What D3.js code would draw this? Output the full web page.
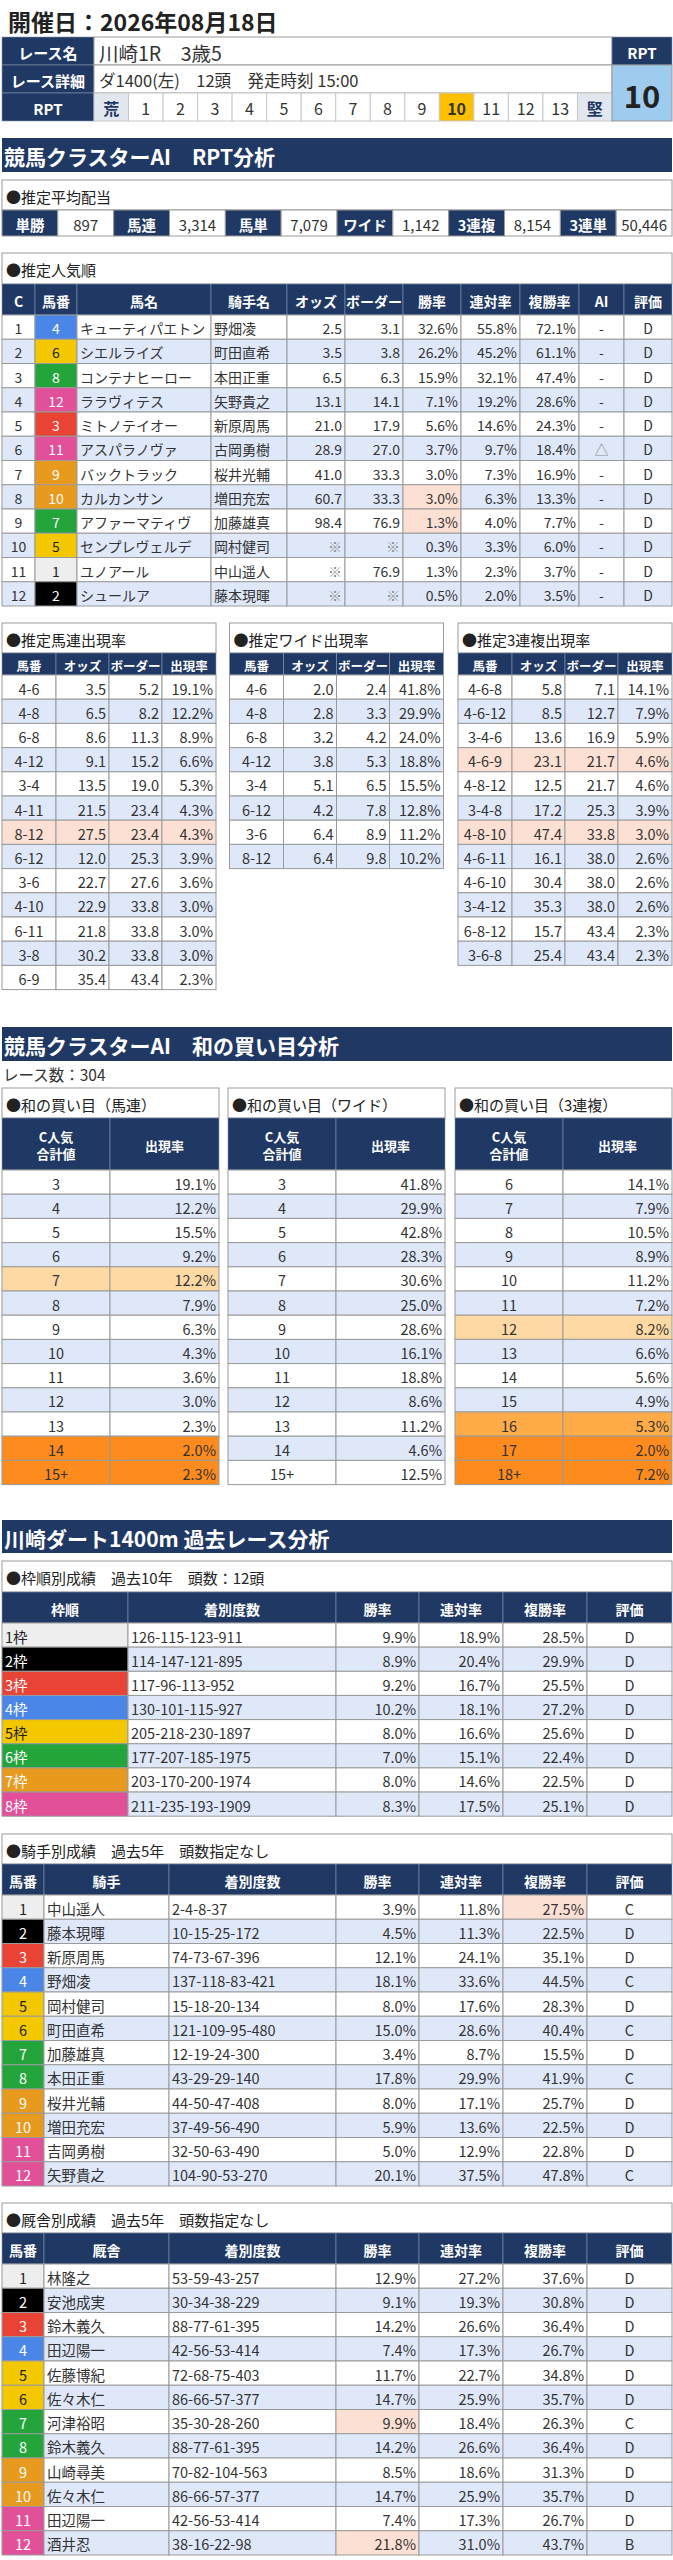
<!DOCTYPE html>
<html>
<head>
<meta charset="utf-8">
<script src="https://cdn.jsdelivr.net/npm/d3@7"></script>
<style>
  body { margin: 0; background: #fff; }
  svg text { font-family: "Noto Sans CJK JP", "Noto Sans", sans-serif; }
</style>
</head>
<body>
<div id="chart"></div>
<script>
// ---- data -----------------------------------------------------------
var raceDate = "開催日：2026年08月18日";
var raceName = "川崎1R　3歳5";
var raceDetail = "ダ1400(左)　12頭　発走時刻 15:00";
var rptScale = ["荒", "1", "2", "3", "4", "5", "6", "7", "8", "9", "10", "11", "12", "13", "堅"];
var rptValue = 10;

var payoutLabels = ["単勝", "馬連", "馬単", "ワイド", "3連複", "3連単"];
var payoutValues = [897, 3314, 7079, 1142, 8154, 50446];

// 推定人気順 (null = ※)
var popHorse = [4, 6, 8, 12, 3, 11, 9, 10, 7, 5, 1, 2];
var popName = ["キューティパエトン", "シエルライズ", "コンテナヒーロー", "ララヴィテス", "ミトノテイオー", "アスパラノヴァ",
  "バックトラック", "カルカンサン", "アファーマティヴ", "センプレヴェルデ", "ユノアール", "シュールア"];
var popJockey = ["野畑凌", "町田直希", "本田正重", "矢野貴之", "新原周馬", "古岡勇樹",
  "桜井光輔", "増田充宏", "加藤雄真", "岡村健司", "中山遥人", "藤本現暉"];
var popOdds = [2.5, 3.5, 6.5, 13.1, 21.0, 28.9, 41.0, 60.7, 98.4, null, null, null];
var popBorder = [3.1, 3.8, 6.3, 14.1, 17.9, 27.0, 33.3, 33.3, 76.9, null, 76.9, null];
var popWin = [32.6, 26.2, 15.9, 7.1, 5.6, 3.7, 3.0, 3.0, 1.3, 0.3, 1.3, 0.5];
var popRen = [55.8, 45.2, 32.1, 19.2, 14.6, 9.7, 7.3, 6.3, 4.0, 3.3, 2.3, 2.0];
var popFuku = [72.1, 61.1, 47.4, 28.6, 24.3, 18.4, 16.9, 13.3, 7.7, 6.0, 3.7, 3.5];
var popAI = ["-", "-", "-", "-", "-", "△", "-", "-", "-", "-", "-", "-"];
var popGrade = ["D", "D", "D", "D", "D", "D", "D", "D", "D", "D", "D", "D"];
var popWinMarked = [7, 8];

// 推定出現率: [組番, オッズ, ボーダー, 出現率]
var umarenRows = [["4-6", 3.5, 5.2, 19.1], ["4-8", 6.5, 8.2, 12.2], ["6-8", 8.6, 11.3, 8.9], ["4-12", 9.1, 15.2, 6.6],
  ["3-4", 13.5, 19.0, 5.3], ["4-11", 21.5, 23.4, 4.3], ["8-12", 27.5, 23.4, 4.3], ["6-12", 12.0, 25.3, 3.9],
  ["3-6", 22.7, 27.6, 3.6], ["4-10", 22.9, 33.8, 3.0], ["6-11", 21.8, 33.8, 3.0], ["3-8", 30.2, 33.8, 3.0],
  ["6-9", 35.4, 43.4, 2.3]];
var umarenMarked = [6];
var wideRows = [["4-6", 2.0, 2.4, 41.8], ["4-8", 2.8, 3.3, 29.9], ["6-8", 3.2, 4.2, 24.0], ["4-12", 3.8, 5.3, 18.8],
  ["3-4", 5.1, 6.5, 15.5], ["6-12", 4.2, 7.8, 12.8], ["3-6", 6.4, 8.9, 11.2], ["8-12", 6.4, 9.8, 10.2]];
var wideMarked = [];
var trioRows = [["4-6-8", 5.8, 7.1, 14.1], ["4-6-12", 8.5, 12.7, 7.9], ["3-4-6", 13.6, 16.9, 5.9], ["4-6-9", 23.1, 21.7, 4.6],
  ["4-8-12", 12.5, 21.7, 4.6], ["3-4-8", 17.2, 25.3, 3.9], ["4-8-10", 47.4, 33.8, 3.0], ["4-6-11", 16.1, 38.0, 2.6],
  ["4-6-10", 30.4, 38.0, 2.6], ["3-4-12", 35.3, 38.0, 2.6], ["6-8-12", 15.7, 43.4, 2.3], ["3-6-8", 25.4, 43.4, 2.3]];
var trioMarked = [3, 6];

// 和の買い目
var raceCount = 304;
var sumUmarenKeys = ["3", "4", "5", "6", "7", "8", "9", "10", "11", "12", "13", "14", "15+"];
var sumUmarenRate = [19.1, 12.2, 15.5, 9.2, 12.2, 7.9, 6.3, 4.3, 3.6, 3.0, 2.3, 2.0, 2.3];
var sumUmarenLevel = [0, 0, 0, 0, 1, 0, 0, 0, 0, 0, 0, 3, 3];
var sumWideKeys = ["3", "4", "5", "6", "7", "8", "9", "10", "11", "12", "13", "14", "15+"];
var sumWideRate = [41.8, 29.9, 42.8, 28.3, 30.6, 25.0, 28.6, 16.1, 18.8, 8.6, 11.2, 4.6, 12.5];
var sumWideLevel = [0, 0, 0, 0, 0, 0, 0, 0, 0, 0, 0, 0, 0];
var sumTrioKeys = ["6", "7", "8", "9", "10", "11", "12", "13", "14", "15", "16", "17", "18+"];
var sumTrioRate = [14.1, 7.9, 10.5, 8.9, 11.2, 7.2, 8.2, 6.6, 5.6, 4.9, 5.3, 2.0, 7.2];
var sumTrioLevel = [0, 0, 0, 0, 0, 0, 1, 0, 0, 0, 2, 3, 3];

// 枠順別成績
var frameLabels = ["1枠", "2枠", "3枠", "4枠", "5枠", "6枠", "7枠", "8枠"];
var frameRecord = ["126-115-123-911", "114-147-121-895", "117-96-113-952", "130-101-115-927",
  "205-218-230-1897", "177-207-185-1975", "203-170-200-1974", "211-235-193-1909"];
var frameWin = [9.9, 8.9, 9.2, 10.2, 8.0, 7.0, 8.0, 8.3];
var frameRen = [18.9, 20.4, 16.7, 18.1, 16.6, 15.1, 14.6, 17.5];
var frameFuku = [28.5, 29.9, 25.5, 27.2, 25.6, 22.4, 22.5, 25.1];
var frameGrade = ["D", "D", "D", "D", "D", "D", "D", "D"];

// 騎手別成績
var jockeyNames = ["中山遥人", "藤本現暉", "新原周馬", "野畑凌", "岡村健司", "町田直希",
  "加藤雄真", "本田正重", "桜井光輔", "増田充宏", "吉岡勇樹", "矢野貴之"];
var jockeyRecord = ["2-4-8-37", "10-15-25-172", "74-73-67-396", "137-118-83-421", "15-18-20-134", "121-109-95-480",
  "12-19-24-300", "43-29-29-140", "44-50-47-408", "37-49-56-490", "32-50-63-490", "104-90-53-270"];
var jockeyWin = [3.9, 4.5, 12.1, 18.1, 8.0, 15.0, 3.4, 17.8, 8.0, 5.9, 5.0, 20.1];
var jockeyRen = [11.8, 11.3, 24.1, 33.6, 17.6, 28.6, 8.7, 29.9, 17.1, 13.6, 12.9, 37.5];
var jockeyFuku = [27.5, 22.5, 35.1, 44.5, 28.3, 40.4, 15.5, 41.9, 25.7, 22.5, 22.8, 47.8];
var jockeyGrade = ["C", "D", "D", "C", "D", "C", "D", "C", "D", "D", "D", "C"];
var jockeyFukuMarked = [0];

// 厩舎別成績
var stableNames = ["林隆之", "安池成実", "鈴木義久", "田辺陽一", "佐藤博紀", "佐々木仁",
  "河津裕昭", "鈴木義久", "山崎尋美", "佐々木仁", "田辺陽一", "酒井忍"];
var stableRecord = ["53-59-43-257", "30-34-38-229", "88-77-61-395", "42-56-53-414", "72-68-75-403", "86-66-57-377",
  "35-30-28-260", "88-77-61-395", "70-82-104-563", "86-66-57-377", "42-56-53-414", "38-16-22-98"];
var stableWin = [12.9, 9.1, 14.2, 7.4, 11.7, 14.7, 9.9, 14.2, 8.5, 14.7, 7.4, 21.8];
var stableRen = [27.2, 19.3, 26.6, 17.3, 22.7, 25.9, 18.4, 26.6, 18.6, 25.9, 17.3, 31.0];
var stableFuku = [37.6, 30.8, 36.4, 26.7, 34.8, 35.7, 26.3, 36.4, 31.3, 35.7, 26.7, 43.7];
var stableGrade = ["D", "D", "D", "D", "D", "D", "C", "D", "D", "D", "D", "B"];
var stableWinMarked = [6, 11];

// horse number -> frame (12 runners)
var horseFrame = [1, 2, 3, 4, 5, 5, 6, 6, 7, 7, 8, 8];

// ---- styles -----------------------------------------------------------
var NAVY = "#1f3864", ALT = "#dfe8f9", LINE = "#9a9a9a", INK = "#333";
var PINK = "#fce0d4";
var LEVEL_FILL = [null, "#fed9a3", "#ffab47", "#fd8b1d"];
var FRAME_FILL = ["#eeeeee", "#000000", "#e94335", "#4a86e8", "#f3c800", "#23a53b", "#e89a1e", "#e2509a"];
var FRAME_INK = ["#222", "#fff", "#fff", "#fff", "#222", "#fff", "#fff", "#fff"];

var fmt1 = d3.format(".1f");
var fmtComma = d3.format(",");
function pct(v) { return fmt1(v) + "%"; }
function odds(v) { return v == null ? "※" : fmt1(v); }

var W = 673, H = 2560;
var svg = d3.select("#chart").append("svg")
  .attr("width", W).attr("height", H)
  .attr("viewBox", "0 0 " + W + " " + H);
svg.append("rect").attr("width", W).attr("height", H).attr("fill", "#fff");

function putText(g, x, y, str, o) {
  o = o || {};
  return g.append("text")
    .attr("x", x).attr("y", y)
    .attr("dominant-baseline", "central")
    .attr("text-anchor", o.anchor || "start")
    .attr("font-size", o.size || 14)
    .attr("font-weight", o.weight || "normal")
    .attr("fill", o.color || INK)
    .text(str);
}

function sectionBar(y, h, str) {
  svg.append("rect").attr("x", 2).attr("y", y).attr("width", 670).attr("height", h).attr("fill", NAVY);
  putText(svg, 4, y + h / 2 + 1, str, { size: 21, weight: "bold", color: "#fff" });
}

// generic bordered table: title row, navy header, striped body
function drawTable(o) {
  var g = svg.append("g");
  var x0 = o.x;
  var edges = [x0].concat(Array.from(d3.cumsum(o.widths)).map(function (d) { return x0 + d; }));
  var totalW = edges[edges.length - 1] - x0;
  var y = o.y;

  if (o.title) {
    g.append("rect").attr("x", x0).attr("y", y).attr("width", totalW).attr("height", o.titleH)
      .attr("fill", "#fff").attr("stroke", LINE);
    putText(g, x0 + 4, y + o.titleH / 2 + 1, o.title, { size: 15, color: "#222" });
    y += o.titleH;
  }

  if (o.headers) {
    o.headers.forEach(function (h, c) {
      var cx = edges[c], cw = edges[c + 1] - edges[c];
      g.append("rect").attr("x", cx).attr("y", y).attr("width", cw).attr("height", o.headH)
        .attr("fill", NAVY).attr("stroke", "#8a96ad").attr("stroke-width", 0.6);
      var lines = h.split("\n");
      lines.forEach(function (ln, k) {
        var ty = y + o.headH / 2 + (k - (lines.length - 1) / 2) * 17 + 1;
        putText(g, cx + cw / 2, ty, ln, { size: o.headSize || 14, weight: "bold", color: "#fff", anchor: "middle" });
      });
    });
    y += o.headH;
  }

  var rowY = d3.scaleBand().domain(d3.range(o.rows.length)).range([y, y + o.rows.length * o.rowH]);
  var cells = [];
  o.rows.forEach(function (row, r) {
    row.forEach(function (val, c) { cells.push({ r: r, c: c, v: val }); });
  });

  var cg = g.selectAll("g.cell").data(cells).join("g").attr("class", "cell");
  cg.append("rect")
    .attr("x", function (d) { return edges[d.c]; })
    .attr("y", function (d) { return rowY(d.r); })
    .attr("width", function (d) { return edges[d.c + 1] - edges[d.c]; })
    .attr("height", rowY.bandwidth())
    .attr("fill", function (d) {
      var f = o.fill ? o.fill(d.r, d.c) : null;
      return f || (d.r % 2 === 1 ? ALT : "#fff");
    })
    .attr("stroke", LINE).attr("stroke-width", 1);
  cg.append("text")
    .attr("x", function (d) {
      var a = o.align[d.c];
      if (a === "middle") return (edges[d.c] + edges[d.c + 1]) / 2;
      if (a === "end") return edges[d.c + 1] - 3;
      return edges[d.c] + 3;
    })
    .attr("y", function (d) { return rowY(d.r) + rowY.bandwidth() / 2 + 1; })
    .attr("dominant-baseline", "central")
    .attr("text-anchor", function (d) { return o.align[d.c]; })
    .attr("font-size", o.size || 14.5)
    .attr("fill", function (d) {
      var col = o.color ? o.color(d.r, d.c, d.v) : null;
      return col || INK;
    })
    .text(function (d) { return d.v; });
  return g;
}

function frameOfHorse(h) { return horseFrame[h - 1] - 1; }

// ---- header block --------------------------------------------------------
putText(svg, 8, 21, raceDate, { size: 23, weight: "bold", color: "#222" });

(function () {
  var top = 37, rh = 28, labW = 92, x0 = 2, scaleX0 = 94, scaleX1 = 612;
  var g = svg.append("g");
  var labels = ["レース名", "レース詳細", "RPT"];
  labels.forEach(function (l, i) {
    g.append("rect").attr("x", x0).attr("y", top + i * rh).attr("width", labW).attr("height", rh)
      .attr("fill", NAVY).attr("stroke", "#8a96ad").attr("stroke-width", 0.6);
    putText(g, x0 + labW / 2, top + i * rh + rh / 2 + 1, l, { size: 15, weight: "bold", color: "#fff", anchor: "middle" });
  });
  [raceName, raceDetail].forEach(function (s, i) {
    g.append("rect").attr("x", scaleX0).attr("y", top + i * rh).attr("width", scaleX1 - scaleX0).attr("height", rh)
      .attr("fill", "#fff").attr("stroke", LINE);
    putText(g, scaleX0 + 5, top + i * rh + rh / 2 + 1, s, { size: i === 0 ? 19.5 : 16.5, color: "#333" });
  });
  var sx = d3.scaleBand().domain(rptScale).range([scaleX0, scaleX1]);
  var ry = top + 2 * rh;
  var sc = g.selectAll("g.rpt").data(rptScale).join("g").attr("class", "rpt");
  sc.append("rect")
    .attr("x", function (d) { return sx(d); }).attr("y", ry)
    .attr("width", sx.bandwidth()).attr("height", rh)
    .attr("fill", function (d) {
      if (d === String(rptValue)) return "#ffc000";
      if (d === "荒" || d === "堅") return "#e2e7ef";
      return "#fff";
    })
    .attr("stroke", "#c8c8c8");
  sc.append("text")
    .attr("x", function (d) { return sx(d) + sx.bandwidth() / 2; })
    .attr("y", ry + rh / 2 + 1)
    .attr("dominant-baseline", "central").attr("text-anchor", "middle")
    .attr("font-size", 16)
    .attr("font-weight", function (d) { return (d === "荒" || d === "堅" || d === String(rptValue)) ? "bold" : "normal"; })
    .attr("fill", function (d) { return (d === "荒" || d === "堅") ? NAVY : "#333"; })
    .text(function (d) { return d; });
  // RPT badge
  g.append("rect").attr("x", scaleX1).attr("y", top).attr("width", 672 - scaleX1).attr("height", rh)
    .attr("fill", NAVY).attr("stroke", "#8a96ad").attr("stroke-width", 0.6);
  putText(g, (scaleX1 + 672) / 2, top + rh / 2 + 1, "RPT", { size: 15, weight: "bold", color: "#fff", anchor: "middle" });
  g.append("rect").attr("x", scaleX1).attr("y", top + rh).attr("width", 672 - scaleX1).attr("height", rh * 2)
    .attr("fill", "#9fcbee").attr("stroke", LINE);
  putText(g, (scaleX1 + 672) / 2, top + rh * 2 + 1, String(rptValue), { size: 31, weight: "bold", color: "#222", anchor: "middle" });
})();

// ---- RPT分析 -------------------------------------------------------------
sectionBar(138, 34, "競馬クラスターAI　RPT分析");

(function () {
  var x0 = 2, top = 180, titleH = 30, rh = 26;
  var g = svg.append("g");
  g.append("rect").attr("x", x0).attr("y", top).attr("width", 670).attr("height", titleH)
    .attr("fill", "#fff").attr("stroke", LINE);
  putText(g, x0 + 4, top + titleH / 2 + 1, "●推定平均配当", { size: 15, color: "#222" });
  var px = d3.scaleBand().domain(d3.range(payoutLabels.length)).range([x0, 672]);
  var half = px.bandwidth() / 2;
  var pg = g.selectAll("g.pay").data(payoutLabels).join("g").attr("class", "pay");
  pg.append("rect").attr("x", function (d, i) { return px(i); }).attr("y", top + titleH)
    .attr("width", half).attr("height", rh).attr("fill", NAVY).attr("stroke", LINE);
  pg.append("rect").attr("x", function (d, i) { return px(i) + half; }).attr("y", top + titleH)
    .attr("width", half).attr("height", rh).attr("fill", "#fff").attr("stroke", LINE);
  pg.append("text").attr("x", function (d, i) { return px(i) + half / 2; }).attr("y", top + titleH + rh / 2 + 1)
    .attr("dominant-baseline", "central").attr("text-anchor", "middle")
    .attr("font-size", 14.5).attr("font-weight", "bold").attr("fill", "#fff")
    .text(function (d) { return d; });
  pg.append("text").attr("x", function (d, i) { return px(i) + half * 1.5; }).attr("y", top + titleH + rh / 2 + 1)
    .attr("dominant-baseline", "central").attr("text-anchor", "middle")
    .attr("font-size", 15).attr("fill", INK)
    .text(function (d, i) { return fmtComma(payoutValues[i]); });
})();

drawTable({
  x: 2, y: 253, titleH: 31, headH: 31, rowH: 24.25, size: 14,
  title: "●推定人気順",
  widths: [33, 42, 134, 76, 58, 58, 58, 59, 59, 45, 48],
  headers: ["C", "馬番", "馬名", "騎手名", "オッズ", "ボーダー", "勝率", "連対率", "複勝率", "AI", "評価"],
  align: ["middle", "middle", "start", "start", "end", "end", "end", "end", "end", "middle", "middle"],
  rows: popHorse.map(function (h, i) {
    return [String(i + 1), String(h), popName[i], popJockey[i], odds(popOdds[i]), odds(popBorder[i]),
      pct(popWin[i]), pct(popRen[i]), pct(popFuku[i]), popAI[i], popGrade[i]];
  }),
  fill: function (r, c) {
    if (c === 1) return FRAME_FILL[frameOfHorse(popHorse[r])];
    if (c === 6 && popWinMarked.indexOf(r) >= 0) return PINK;
    return null;
  },
  color: function (r, c, v) {
    if (c === 1) return FRAME_INK[frameOfHorse(popHorse[r])];
    if (v === "※" || v === "△") return "#888";
    return null;
  }
});

function rateTable(x, title, rows, marked) {
  drawTable({
    x: x, y: 623, titleH: 30, headH: 22, rowH: 24.2,
    title: title, headSize: 12.5,
    widths: [54, 53, 53, 54],
    headers: ["馬番", "オッズ", "ボーダー", "出現率"],
    align: ["middle", "end", "end", "end"],
    rows: rows.map(function (d) { return [d[0], fmt1(d[1]), fmt1(d[2]), pct(d[3])]; }),
    fill: function (r) { return marked.indexOf(r) >= 0 ? PINK : null; }
  });
}
rateTable(2, "●推定馬連出現率", umarenRows, umarenMarked);
rateTable(229.5, "●推定ワイド出現率", wideRows, wideMarked);
rateTable(458, "●推定3連複出現率", trioRows, trioMarked);

// ---- 和の買い目分析 ------------------------------------------------------------
sectionBar(1027, 34, "競馬クラスターAI　和の買い目分析");
putText(svg, 3, 1074, "レース数：" + raceCount, { size: 15.5, color: "#333" });

function sumTable(x, title, keys, rates, levels) {
  drawTable({
    x: x, y: 1088, titleH: 30, headH: 52, rowH: 24.2,
    title: title, headSize: 13,
    widths: [108, 109],
    headers: ["C人気\n合計値", "出現率"],
    align: ["middle", "end"],
    rows: keys.map(function (k, i) { return [k, pct(rates[i])]; }),
    fill: function (r) { return LEVEL_FILL[levels[r]]; }
  });
}
sumTable(2, "●和の買い目（馬連）", sumUmarenKeys, sumUmarenRate, sumUmarenLevel);
sumTable(228, "●和の買い目（ワイド）", sumWideKeys, sumWideRate, sumWideLevel);
sumTable(455, "●和の買い目（3連複）", sumTrioKeys, sumTrioRate, sumTrioLevel);

// ---- 過去レース分析 --------------------------------------------------------------
sectionBar(1520, 33, "川崎ダート1400m 過去レース分析");

drawTable({
  x: 2, y: 1561, titleH: 31, headH: 31, rowH: 24.15,
  title: "●枠順別成績　過去10年　頭数：12頭",
  widths: [126, 208, 83, 84, 84, 85],
  headers: ["枠順", "着別度数", "勝率", "連対率", "複勝率", "評価"],
  align: ["start", "start", "end", "end", "end", "middle"],
  rows: frameLabels.map(function (f, i) {
    return [f, frameRecord[i], pct(frameWin[i]), pct(frameRen[i]), pct(frameFuku[i]), frameGrade[i]];
  }),
  fill: function (r, c) { return c === 0 ? FRAME_FILL[r] : null; },
  color: function (r, c) { return c === 0 ? FRAME_INK[r] : null; }
});

function personTable(y, title, who, names, record, win, ren, fuku, grade, markFn) {
  drawTable({
    x: 2, y: y, titleH: 30, headH: 31, rowH: 24.25,
    title: title,
    widths: [42, 125, 167, 83, 84, 84, 85],
    headers: ["馬番", who, "着別度数", "勝率", "連対率", "複勝率", "評価"],
    align: ["middle", "start", "start", "end", "end", "end", "middle"],
    rows: names.map(function (n, i) {
      return [String(i + 1), n, record[i], pct(win[i]), pct(ren[i]), pct(fuku[i]), grade[i]];
    }),
    fill: function (r, c) {
      if (c === 0) return FRAME_FILL[frameOfHorse(r + 1)];
      return markFn(r, c) ? PINK : null;
    },
    color: function (r, c) { return c === 0 ? FRAME_INK[frameOfHorse(r + 1)] : null; }
  });
}
personTable(1834, "●騎手別成績　過去5年　頭数指定なし", "騎手", jockeyNames, jockeyRecord,
  jockeyWin, jockeyRen, jockeyFuku, jockeyGrade,
  function (r, c) { return c === 5 && jockeyFukuMarked.indexOf(r) >= 0; });
personTable(2203, "●厩舎別成績　過去5年　頭数指定なし", "厩舎", stableNames, stableRecord,
  stableWin, stableRen, stableFuku, stableGrade,
  function (r, c) { return c === 3 && stableWinMarked.indexOf(r) >= 0; });
</script>
</body>
</html>
